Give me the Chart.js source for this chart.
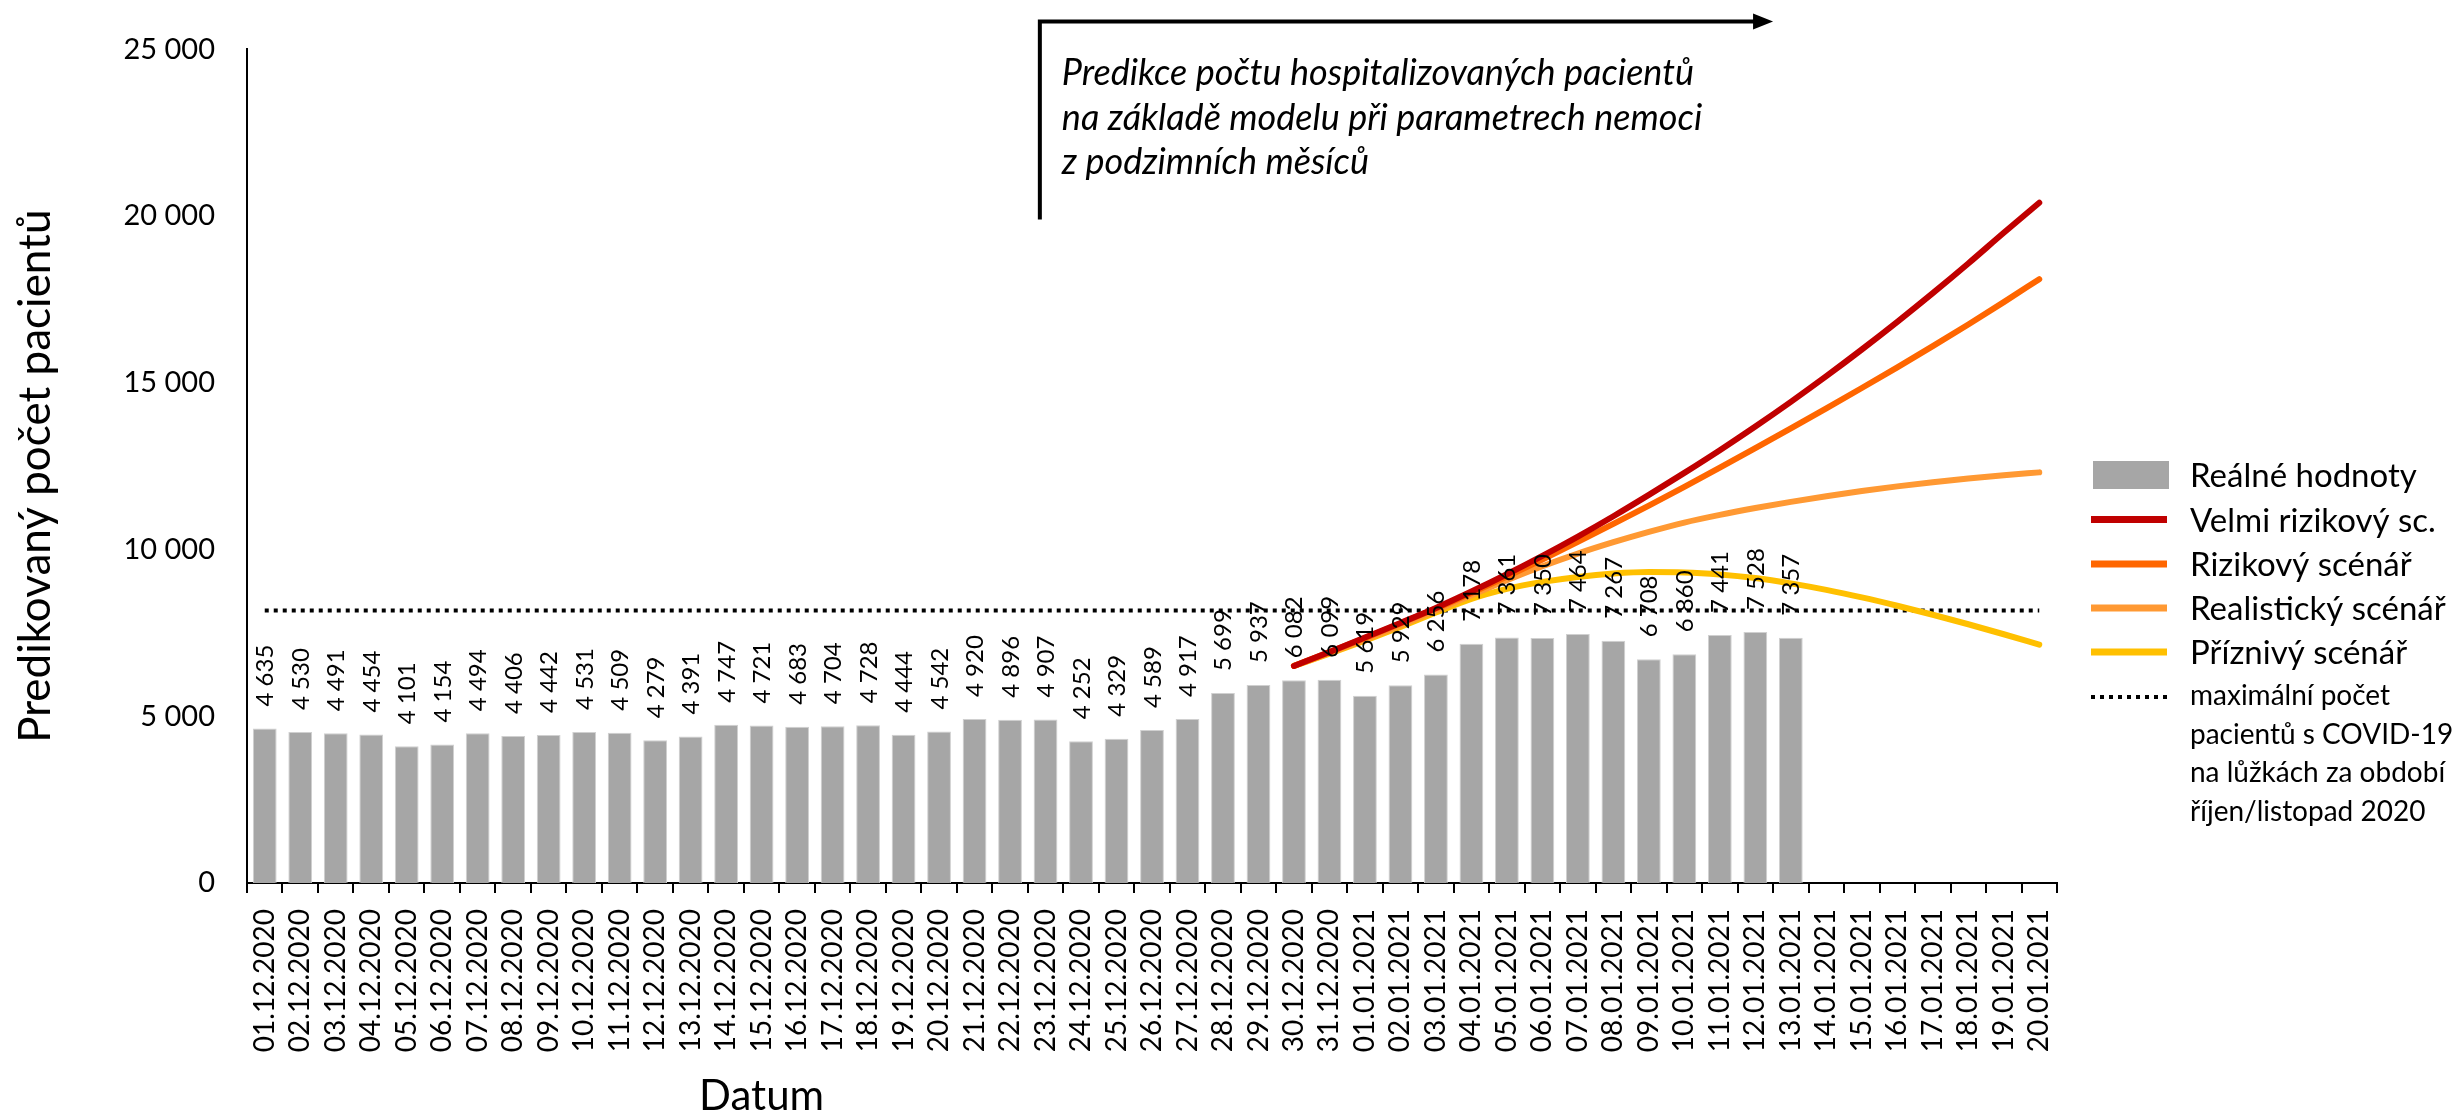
<!DOCTYPE html>
<html>
<head>
<meta charset="utf-8">
<script src="https://cdn.jsdelivr.net/npm/chart.js@4.4.0/dist/chart.umd.min.js"></script>
<style>
  html, body { margin: 0; padding: 0; background: #fff; }
  #chart { display: block; }
</style>
</head>
<body>
<canvas id="chart" width="2463" height="1118"></canvas>
<script>
// Category labels (one per day)
const dates = [
  '01.12.2020', '02.12.2020', '03.12.2020', '04.12.2020', '05.12.2020', '06.12.2020', '07.12.2020',
  '08.12.2020', '09.12.2020', '10.12.2020', '11.12.2020', '12.12.2020', '13.12.2020', '14.12.2020',
  '15.12.2020', '16.12.2020', '17.12.2020', '18.12.2020', '19.12.2020', '20.12.2020', '21.12.2020',
  '22.12.2020', '23.12.2020', '24.12.2020', '25.12.2020', '26.12.2020', '27.12.2020', '28.12.2020',
  '29.12.2020', '30.12.2020', '31.12.2020', '01.01.2021', '02.01.2021', '03.01.2021', '04.01.2021',
  '05.01.2021', '06.01.2021', '07.01.2021', '08.01.2021', '09.01.2021', '10.01.2021', '11.01.2021',
  '12.01.2021', '13.01.2021', '14.01.2021', '15.01.2021', '16.01.2021', '17.01.2021', '18.01.2021',
  '19.01.2021', '20.01.2021'
];

// Real hospitalised counts (01.12.2020 - 13.01.2021)
const realValues = [
  4635, 4530, 4491, 4454, 4101, 4154, 4494, 4406, 4442, 4531, 4509, 4279, 4391, 4747,
  4721, 4683, 4704, 4728, 4444, 4542, 4920, 4896, 4907, 4252, 4329, 4589, 4917, 5699,
  5937, 6082, 6099, 5619, 5929, 6256, 7178, 7361, 7350, 7464, 7267, 6708, 6860, 7441,
  7528, 7357
];

// Model scenarios, from 30.12.2020 to 20.01.2021
const noPrediction = Array(29).fill(null);
const veryRisky = noPrediction.concat([
  6510, 6930, 7360, 7800, 8250, 8740, 9260, 9810, 10390, 11000, 11640,
  12300, 12980, 13690, 14430, 15200, 16000, 16830, 17690, 18580, 19500, 20400
]);
const risky = noPrediction.concat([
  6510, 6925, 7350, 7785, 8230, 8700, 9190, 9700, 10230, 10770, 11320,
  11880, 12455, 13040, 13635, 14235, 14845, 15465, 16100, 16750, 17420, 18110
]);
const realistic = noPrediction.concat([
  6510, 6900, 7300, 7720, 8170, 8630, 9080, 9500, 9880, 10220, 10530,
  10810, 11040, 11245, 11430, 11600, 11755, 11895, 12020, 12130, 12230, 12315
]);
const favourable = noPrediction.concat([
  6510, 6880, 7270, 7680, 8110, 8520, 8820, 9030, 9180, 9280, 9325,
  9315, 9255, 9145, 8985, 8790, 8565, 8315, 8045, 7760, 7460, 7150
]);

// Maximum patients in beds, October/November 2020
const maxOctNov = 8175;

const yTicks = [0, 5000, 10000, 15000, 20000, 25000];

const seriesNames = [
  'Reálné hodnoty', 'Velmi rizikový sc.', 'Rizikový scénář', 'Realistický scénář', 'Příznivý scénář'
];
const maxNoteLines = ['maximální počet', 'pacientů s COVID-19', 'na lůžkách za období', 'říjen/listopad 2020'];
const noteLines = [
  'Predikce počtu hospitalizovaných pacientů',
  'na základě modelu při parametrech nemoci',
  'z podzimních měsíců'
];

const FONT = 'Lato, "Open Sans", sans-serif';
const colors = {
  bar: '#A6A6A6',
  veryRisky: '#C00000',
  risky: '#FF6600',
  realistic: '#FF9933',
  favourable: '#FFC000'
};

function fmt(v) {
  return String(Math.round(v)).replace(/\B(?=(\d{3})+(?!\d))/g, ' ');
}

// Rotated value labels above the bars
const barLabels = {
  id: 'barLabels',
  afterDatasetsDraw(chart) {
    const meta = chart.getDatasetMeta(5);
    const ctx = chart.ctx;
    ctx.save();
    ctx.font = '24px ' + FONT;
    ctx.fillStyle = '#000';
    ctx.textAlign = 'left';
    ctx.textBaseline = 'alphabetic';
    meta.data.forEach((bar, i) => {
      if (realValues[i] == null) return;
      ctx.save();
      ctx.translate(bar.x, bar.y - 22);
      ctx.rotate(-Math.PI / 2);
      ctx.fillText(fmt(realValues[i]), 0, 8.5);
      ctx.restore();
    });
    ctx.restore();
  }
};

// Axis titles, arrow note and legend
const extras = {
  id: 'extras',
  afterDraw(chart) {
    const ctx = chart.ctx;
    const ca = chart.chartArea;
    const xs = chart.scales.x;
    const ys = chart.scales.y;

    ctx.save();
    ctx.fillStyle = '#000';

    // y axis title
    ctx.save();
    ctx.font = '44px ' + FONT;
    ctx.textAlign = 'center';
    ctx.textBaseline = 'alphabetic';
    ctx.translate(50, (ca.top + ca.bottom) / 2 + 10);
    ctx.rotate(-Math.PI / 2);
    ctx.fillText('Predikovaný počet pacientů', 0, 0);
    ctx.restore();

    // x axis title
    ctx.font = '42px ' + FONT;
    ctx.textAlign = 'center';
    ctx.fillText('Datum', xs.getPixelForValue(14), 1110);

    // arrow marking the prediction period
    const ax = xs.getPixelForValue(21.84);
    const tipX = xs.getPixelForValue(42.5);
    const topY = ys.getPixelForValue(25840);
    const botY = ys.getPixelForValue(19900);
    ctx.strokeStyle = '#000';
    ctx.lineWidth = 4;
    ctx.lineJoin = 'miter';
    ctx.beginPath();
    ctx.moveTo(ax, botY);
    ctx.lineTo(ax, topY);
    ctx.lineTo(tipX - 16, topY);
    ctx.stroke();
    ctx.beginPath();
    ctx.moveTo(tipX, topY);
    ctx.lineTo(tipX - 20, topY - 8);
    ctx.lineTo(tipX - 20, topY + 8);
    ctx.closePath();
    ctx.fill();

    ctx.font = 'italic 36px ' + FONT;
    ctx.textAlign = 'left';
    noteLines.forEach((t, k) => ctx.fillText(t, ax + 22, topY + 64 + k * 44.5));

    // legend
    const mx = ca.right + 34;
    const tx = ca.right + 133;
    const rows = [475, 519.5, 564, 608, 652];
    ctx.font = '33px ' + FONT;
    ctx.fillStyle = colors.bar;
    ctx.fillRect(mx + 2, rows[0] - 14, 76, 28);
    const lineCols = [colors.veryRisky, colors.risky, colors.realistic, colors.favourable];
    lineCols.forEach((c, k) => {
      ctx.fillStyle = c;
      ctx.fillRect(mx, rows[k + 1] - 3.5, 76, 7);
    });
    ctx.fillStyle = '#000';
    seriesNames.forEach((name, k) => ctx.fillText(name, tx, rows[k] + 12));

    // dotted marker + multi-line label
    ctx.strokeStyle = '#000';
    ctx.lineWidth = 4;
    ctx.setLineDash([4, 5]);
    ctx.beginPath();
    ctx.moveTo(mx, 697);
    ctx.lineTo(mx + 78, 697);
    ctx.stroke();
    ctx.setLineDash([]);
    ctx.font = '28px ' + FONT;
    maxNoteLines.forEach((t, k) => ctx.fillText(t, tx, 705 + k * 38.6));

    ctx.restore();
  }
};

function lineSet(label, data, color, order) {
  return {
    type: 'line',
    label: label,
    data: data,
    borderColor: color,
    backgroundColor: color,
    borderWidth: 6,
    borderCapStyle: 'round',
    pointRadius: 0,
    cubicInterpolationMode: 'monotone',
    fill: false,
    order: order
  };
}

new Chart(document.getElementById('chart'), {
  type: 'bar',
  data: {
    labels: dates,
    datasets: [
      lineSet(seriesNames[1], veryRisky, colors.veryRisky, 1),
      lineSet(seriesNames[2], risky, colors.risky, 2),
      lineSet(seriesNames[3], realistic, colors.realistic, 3),
      lineSet(seriesNames[4], favourable, colors.favourable, 4),
      {
        type: 'line',
        label: 'maximální počet',
        data: dates.map(() => maxOctNov),
        borderColor: '#000',
        borderWidth: 4,
        borderDash: [4, 5],
        pointRadius: 0,
        fill: false,
        order: 5
      },
      {
        type: 'bar',
        label: seriesNames[0],
        data: realValues,
        backgroundColor: colors.bar,
        borderColor: '#D0D0D0',
        borderWidth: 1,
        barPercentage: 0.67,
        categoryPercentage: 1.0,
        order: 10
      }
    ]
  },
  options: {
    responsive: false,
    animation: false,
    layout: { padding: { left: 0, right: 406, top: 49, bottom: 0 } },
    plugins: {
      legend: { display: false },
      tooltip: { enabled: false }
    },
    scales: {
      x: {
        offset: true,
        grid: {
          display: true,
          offset: true,
          drawOnChartArea: false,
          drawTicks: true,
          tickLength: 10,
          color: '#000',
          lineWidth: 2
        },
        border: { display: true, color: '#000', width: 2 },
        ticks: {
          autoSkip: false,
          minRotation: 90,
          maxRotation: 90,
          padding: 16,
          color: '#000',
          font: { family: FONT, size: 28 }
        },
        afterFit: function(scale) { scale.height = 235; }
      },
      y: {
        min: yTicks[0],
        max: yTicks[yTicks.length - 1],
        afterBuildTicks: function(scale) { scale.ticks = yTicks.map(v => ({ value: v })); },
        grid: { display: false, drawTicks: false },
        border: { display: true, color: '#000', width: 2 },
        ticks: {
          padding: 32,
          color: '#000',
          font: { family: FONT, size: 29 },
          callback: function(value) { return fmt(value); }
        },
        afterFit: function(scale) { scale.width = 247; }
      }
    }
  },
  plugins: [barLabels, extras]
});
</script>
</body>
</html>
